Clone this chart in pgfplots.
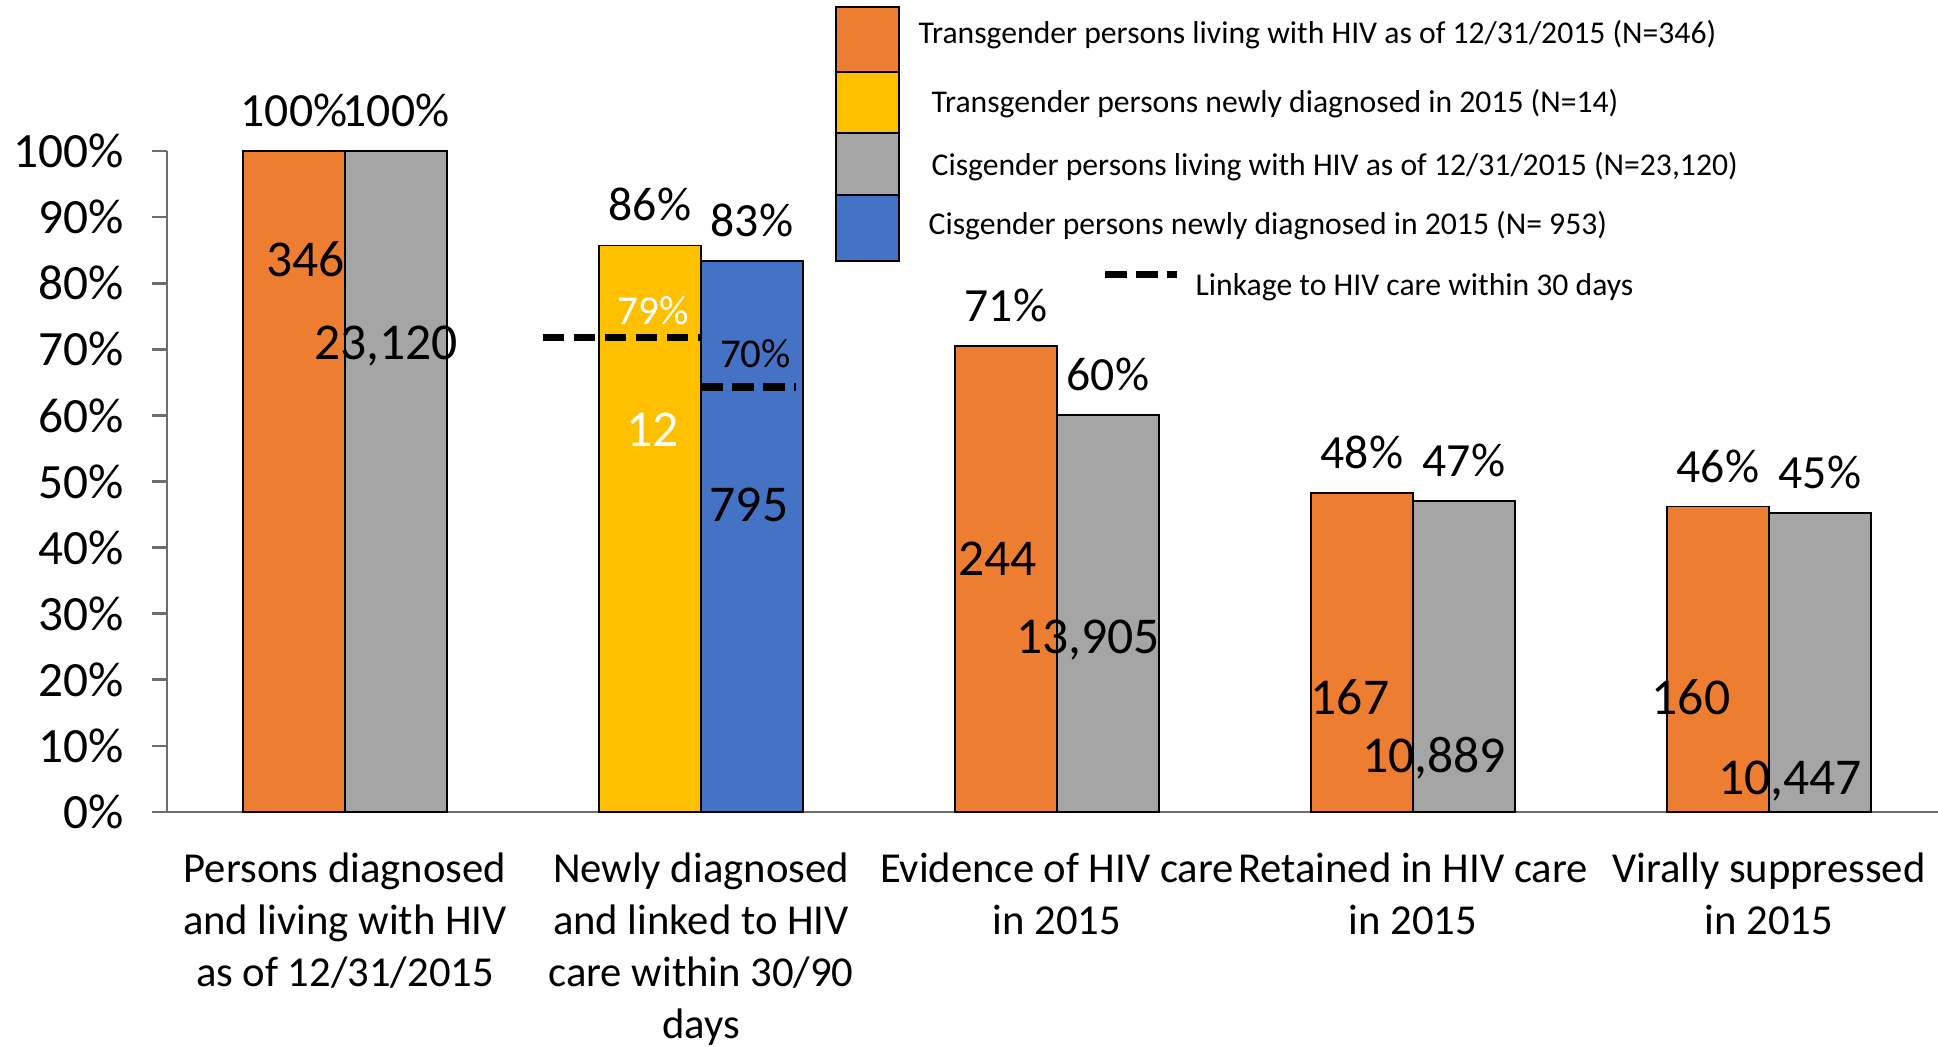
\documentclass[border=0pt]{standalone}
\usepackage{pgfplots}
\pgfplotsset{compat=1.18}
\usepackage{fontspec}
\setmainfont{Carlito}
\definecolor{corange}{HTML}{ED7D31}
\definecolor{cyellow}{HTML}{FFC000}
\definecolor{cgray}{HTML}{A5A5A5}
\definecolor{cblue}{HTML}{4472C4}
\definecolor{axgray}{HTML}{6E6E6E}
\begin{document}
\begin{tikzpicture}
\begin{axis}[
  at={(0,0)}, anchor=south west,
  scale only axis, width=531.3pt, height=198.3pt,
  xmin=-0.5, xmax=4.475, ymin=0, ymax=100,
  axis x line=bottom, axis y line=left,
  axis line style={-, draw=axgray, line width=0.8pt},
  clip=false,
  ytick={0,10,...,100},
  yticklabel={\pgfmathprintnumber{\tick}\%},
  /pgf/number format/assume math mode=true,
  tick align=outside,
  major tick length=4.5pt,
  y tick style={draw=axgray, line width=0.8pt},
  x tick style={draw=none},
  yticklabel style={font=\fontsize{14.8}{16}\selectfont, anchor=east, inner sep=0pt, xshift=-8.3pt},
  xtick={0,1,2,3,4},
  xticklabels={{Persons diagnosed\\and living with HIV\\as of 12/31/2015},
               {Newly diagnosed\\and linked to HIV\\care within 30/90\\days},
               {Evidence of HIV care\\in 2015},
               {Retained in HIV care\\in 2015},
               {Virally suppressed\\in 2015}},
  xticklabel style={align=center, font=\fontsize{12.8}{15.6}\selectfont, anchor=north, inner sep=0pt, yshift=-7.7pt},
  every node near coord/.style={font=\fontsize{14.3}{16}\selectfont, anchor=south, inner sep=0pt, yshift=7pt, text=black},
]
\addplot[ybar, bar width=0.2865, bar shift=-0.14325, fill=corange, draw=black, line width=0.5pt,
  nodes near coords, point meta=explicit symbolic,
  every node near coord/.append style={xshift=-15.3pt}]
  coordinates {(0,100)[100\%] (2,70.5)[71\%] (3,48.3)[48\%] (4,46.2)[46\%]};
\addplot[ybar, bar width=0.2865, bar shift=0.14325, fill=cgray, draw=black, line width=0.5pt,
  nodes near coords, point meta=explicit symbolic,
  every node near coord/.append style={xshift=15.3pt}]
  coordinates {(0,100)[100\%] (2,60.1)[60\%] (3,47.1)[47\%] (4,45.2)[45\%]};
\addplot[ybar, bar width=0.2865, bar shift=-0.14325, fill=cyellow, draw=black, line width=0.5pt,
  nodes near coords, point meta=explicit symbolic,
  every node near coord/.append style={xshift=-15.3pt}]
  coordinates {(1,85.7)[86\%]};
\addplot[ybar, bar width=0.2865, bar shift=0.14325, fill=cblue, draw=black, line width=0.5pt,
  nodes near coords, point meta=explicit symbolic,
  every node near coord/.append style={xshift=15.3pt}]
  coordinates {(1,83.4)[83\%]};
% linkage within 30 days
\addplot[black, line width=2.2pt, dash pattern=on 6.5pt off 2.8pt] coordinates {(0.555,71.8) (1.0,71.8)};
\addplot[black, line width=2.2pt, dash pattern=on 6.5pt off 2.8pt] coordinates {(1.0,64.3) (1.267,64.3)};
% counts inside bars
\begin{scope}[every node/.style={font=\fontsize{15.5}{17}\selectfont, inner sep=0pt}]
\node at (axis cs:-0.111,83.7) {346};
\node at (axis cs:0.115,70.5) {23,120};
\node[text=white] at (axis cs:0.865,57.8) {12};
\node at (axis cs:1.135,46.5) {795};
\node at (axis cs:1.833,38.3) {244};
\node at (axis cs:2.087,26.0) {13,905};
\node at (axis cs:2.823,17.4) {167};
\node at (axis cs:3.059,8.2) {10,889};
\node at (axis cs:3.781,17.4) {160};
\node at (axis cs:4.059,4.7) {10,447};
\end{scope}
\node[font=\fontsize{12.3}{14}\selectfont, inner sep=0pt, text=white] at (axis cs:0.865,75.9) {79\%};
\node[font=\fontsize{12.3}{14}\selectfont, inner sep=0pt] at (axis cs:1.153,69.3) {70\%};
\end{axis}
% legend
\begin{scope}[every node/.style={anchor=west, inner sep=0pt, font=\fontsize{9.5}{11}\selectfont}]
\draw[fill=corange, draw=black, line width=0.8pt] (200.7pt,222pt) rectangle (219.6pt,241.5pt);
\draw[fill=cyellow, draw=black, line width=0.8pt] (200.7pt,203.7pt) rectangle (219.6pt,222pt);
\draw[fill=cgray, draw=black, line width=0.8pt] (200.7pt,185.1pt) rectangle (219.6pt,203.7pt);
\draw[fill=cblue, draw=black, line width=0.8pt] (200.7pt,165.3pt) rectangle (219.6pt,185.1pt);
\node at (225.3pt,233.1pt) {Transgender persons living with HIV as of 12/31/2015 (N=346)};
\node at (229.2pt,212.4pt) {Transgender persons newly diagnosed in 2015 (N=14)};
\node at (229.2pt,193.5pt) {Cisgender persons living with HIV as of 12/31/2015 (N=23,120)};
\node at (228.3pt,175.8pt) {Cisgender persons newly diagnosed in 2015 (N= 953)};
\draw[black, line width=2.2pt, dash pattern=on 6.5pt off 2.8pt] (281.4pt,161.25pt) -- (303pt,161.25pt);
\node at (308.4pt,157.5pt) {Linkage to HIV care within 30 days};
\end{scope}
\pgfresetboundingbox
\path[use as bounding box] (-50.1pt,-70.2pt) rectangle (531.3pt,243.6pt);
\end{tikzpicture}
\end{document}
